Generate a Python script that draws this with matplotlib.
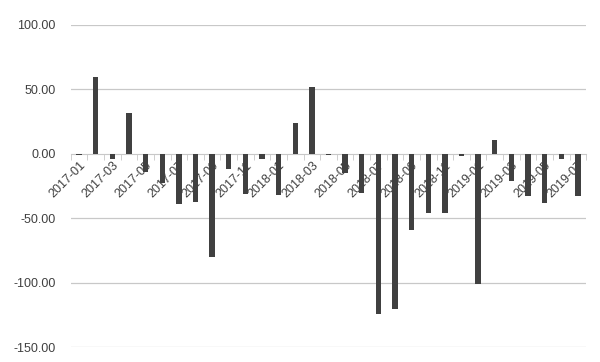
import matplotlib.pyplot as plt
import numpy as np

months = ["2017-01", "2017-02", "2017-03", "2017-04", "2017-05", "2017-06",
          "2017-07", "2017-08", "2017-09", "2017-10", "2017-11", "2017-12",
          "2018-01", "2018-02", "2018-03", "2018-04", "2018-05", "2018-06",
          "2018-07", "2018-08", "2018-09", "2018-10", "2018-11", "2018-12",
          "2019-01", "2019-02", "2019-03", "2019-04", "2019-05", "2019-06",
          "2019-07"]
values = [-1, 60, -4, 32, -14, -23, -39, -37, -80, -12, -31, -4,
          -32, 24, 51.5, -1, -15, -30, -124, -120.5, -59, -46, -46, -2,
          -101, 10.5, -21, -33, -38.5, -4, -33]
yticks = [100, 50, 0, -50, -100, -150]

plt.rcParams['font.family'] = ['Liberation Sans', 'DejaVu Sans']

fig = plt.figure(figsize=(6, 3.62), dpi=100)
ax = fig.add_axes([0.118, 0.041, 0.859, 0.89])

# gridlines under the bars, tick labels (axis zorder 2.5) over them
for v in yticks:
	if v != 0:
		ax.axhline(v, color='#c8c8c8', linewidth=0.9, zorder=0)

x = np.arange(len(months))
ax.bar(x, values, width=0.32, color='#404040', zorder=1)

ax.set_xlim(-0.5, len(months) - 0.5)
ax.set_ylim(-150, 100)
ax.set_yticks(yticks)
ax.set_yticklabels(["%.2f" % v for v in yticks], fontsize=9, color='#404040')
ax.tick_params(axis='y', length=0, pad=11)

for s in ['top', 'right', 'left']:
	ax.spines[s].set_visible(False)
ax.spines['bottom'].set_position(('data', 0))
ax.spines['bottom'].set_color('#c8c8c8')
ax.spines['bottom'].set_zorder(0.5)

ax.set_xticks(x[::2])
ax.set_xticklabels(months[::2], rotation=45, ha='right', va='top',
				   rotation_mode='anchor', fontsize=9, color='#404040')
ax.tick_params(axis='x', length=0, pad=4)
ax.set_xticks(np.arange(-0.5, len(months), 1), minor=True)
ax.tick_params(axis='x', which='minor', length=4, color='#c8c8c8')

fig.savefig('out.png')
